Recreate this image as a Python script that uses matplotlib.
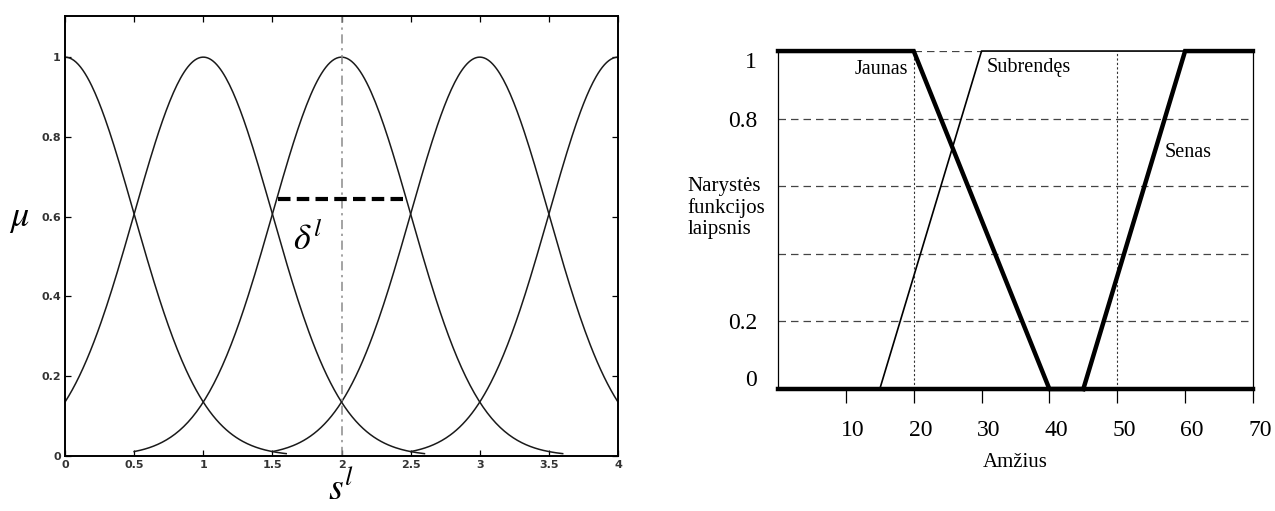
import matplotlib.pyplot as plt
import numpy as np
from matplotlib.transforms import ScaledTranslation

# left panel: gaussian membership functions
centers = [0, 1, 2, 3, 4]
sigma = 0.5
supports = [(0.0, 1.6), (0.0, 2.6), (0.5, 3.6), (1.5, 4.0), (2.5, 4.0)]
delta_level = 0.645
delta_span = [1.54, 2.47]
left_xticks = [0, 0.5, 1, 1.5, 2, 2.5, 3, 3.5, 4]
left_xlabels = ["0", "0.5", "1", "1.5", "2", "2.5", "3", "3.5", "4"]
left_yticks = [0, 0.2, 0.4, 0.6, 0.8, 1]
left_ylabels = ["0", "0.2", "0.4", "0.6", "0.8", "1"]

# right panel: trapezoidal age sets
jaunas_x = [0, 20, 40, 45]
jaunas_y = [1, 1, 0, 0]
subrendes_x = [0, 15, 30, 60]
subrendes_y = [0, 0, 1, 1]
senas_x = [45, 60, 70]
senas_y = [0, 1, 1]
age_ticks = [10, 20, 30, 40, 50, 60, 70]
grid_levels = [0.2, 0.4, 0.6, 0.8]
right_yticks = [0, 0.2, 0.8, 1]
right_ylabels = ["0", "0.2", "0.8", "1"]
dotted_ages = [20, 50]

fig = plt.figure(figsize=(12.75, 5.11), dpi=100)
serif = "Liberation Serif"
plt.rcParams["mathtext.fontset"] = "stix"

# ---- left
ax = fig.add_axes([0.051, 0.1076, 0.4337, 0.861])
for c, (a, b) in zip(centers, supports):
    xs = np.linspace(a, b, 200)
    ax.plot(xs, np.exp(-(xs - c) ** 2 / (2 * sigma ** 2)), color="#1a1a1a", lw=1.1)
ax.axvline(2, color="#8a8a8a", lw=1.1, ls=(0, (6, 3, 1.5, 3)))
ax.plot(delta_span, [delta_level, delta_level], color="black", lw=3, ls=(0, (3, 1.5)))
ax.text(1.76, 0.545, r"$\delta^l$", fontsize=26, ha="center", va="center")
ax.set_xlim(0, 4)
ax.set_ylim(0, 1.103)
ax.set_xticks(left_xticks)
ax.set_xticklabels(left_xlabels)
ax.set_yticks(left_yticks)
ax.set_yticklabels(left_ylabels)
ax.tick_params(direction="in", length=4, width=0.9, top=True, right=True,
               labelsize=8, pad=3)
for lbl in ax.get_xticklabels() + ax.get_yticklabels():
    lbl.set_fontweight("bold")
    lbl.set_color("#333333")
for s in ax.spines.values():
    s.set_linewidth(1.4)
ax.set_xlabel(r"$s^l$", fontsize=27, labelpad=1)
ax.set_ylabel(r"$\mu$", fontsize=26, rotation=0, va="center", ha="center")
ax.yaxis.set_label_coords(-0.083, 0.54)

# ---- right
ax2 = fig.add_axes([0.6102, 0.2387, 0.3725, 0.6614])
for lev in grid_levels:
    ax2.plot([0, 70], [lev, lev], color="#444444", lw=0.9, ls=(0, (6, 4)))
ax2.plot([20, 30], [1, 1], color="#444444", lw=0.9, ls=(0, (6, 4)))
for a in dotted_ages:
    ax2.plot([a, a], [0, 1], color="#333333", lw=0.8, ls=(0, (2, 2)))
ax2.plot(subrendes_x, subrendes_y, color="black", lw=1.2, clip_on=False)
ax2.plot(jaunas_x, jaunas_y, color="black", lw=3.2, clip_on=False,
         solid_joinstyle="miter")
ax2.plot(senas_x, senas_y, color="black", lw=3.2, clip_on=False,
         solid_joinstyle="miter")
ax2.text(15.25, 0.945, "Jaunas", family=serif, fontsize=14.5, ha="center", va="center")
ax2.text(37.0, 0.95, "Subrendęs", family=serif, fontsize=14.5, ha="center", va="center")
ax2.text(60.5, 0.70, "Senas", family=serif, fontsize=14.5, ha="center", va="center")
ax2.set_xlim(0, 70)
ax2.set_ylim(0, 1)
ax2.spines["top"].set_visible(False)
ax2.spines["bottom"].set_linewidth(3.2)
ax2.spines["left"].set_linewidth(0.9)
ax2.spines["right"].set_linewidth(0.9)
ax2.set_xticks(age_ticks)
ax2.set_xticklabels([str(t) for t in age_ticks], family=serif, fontsize=17)
ax2.tick_params(axis="x", direction="out", length=10, width=0.9, pad=12)
for lbl in ax2.get_xticklabels():
    lbl.set_transform(lbl.get_transform() + ScaledTranslation(0.07, 0, fig.dpi_scale_trans))
ax2.set_yticks(right_yticks)
ax2.set_yticklabels(right_ylabels, family=serif, fontsize=17)
ax2.tick_params(axis="y", length=0, pad=15)
ax2.set_yticks([0], minor=True)
ax2.tick_params(axis="y", which="minor", length=10, width=0.9, direction="out")
yl = ax2.get_yticklabels()
yl[0].set_transform(yl[0].get_transform() + ScaledTranslation(0, 0.11, fig.dpi_scale_trans))
yl[-1].set_transform(yl[-1].get_transform() + ScaledTranslation(0, -0.09, fig.dpi_scale_trans))
ax2.set_xlabel("Amžius", family=serif, fontsize=15, labelpad=9)
fig.text(0.539, 0.593, "Narystės\nfunkcijos\nlaipsnis", family=serif, fontsize=15,
         ha="left", va="center", linespacing=1.15)

fig.savefig("out.png", dpi=100)
